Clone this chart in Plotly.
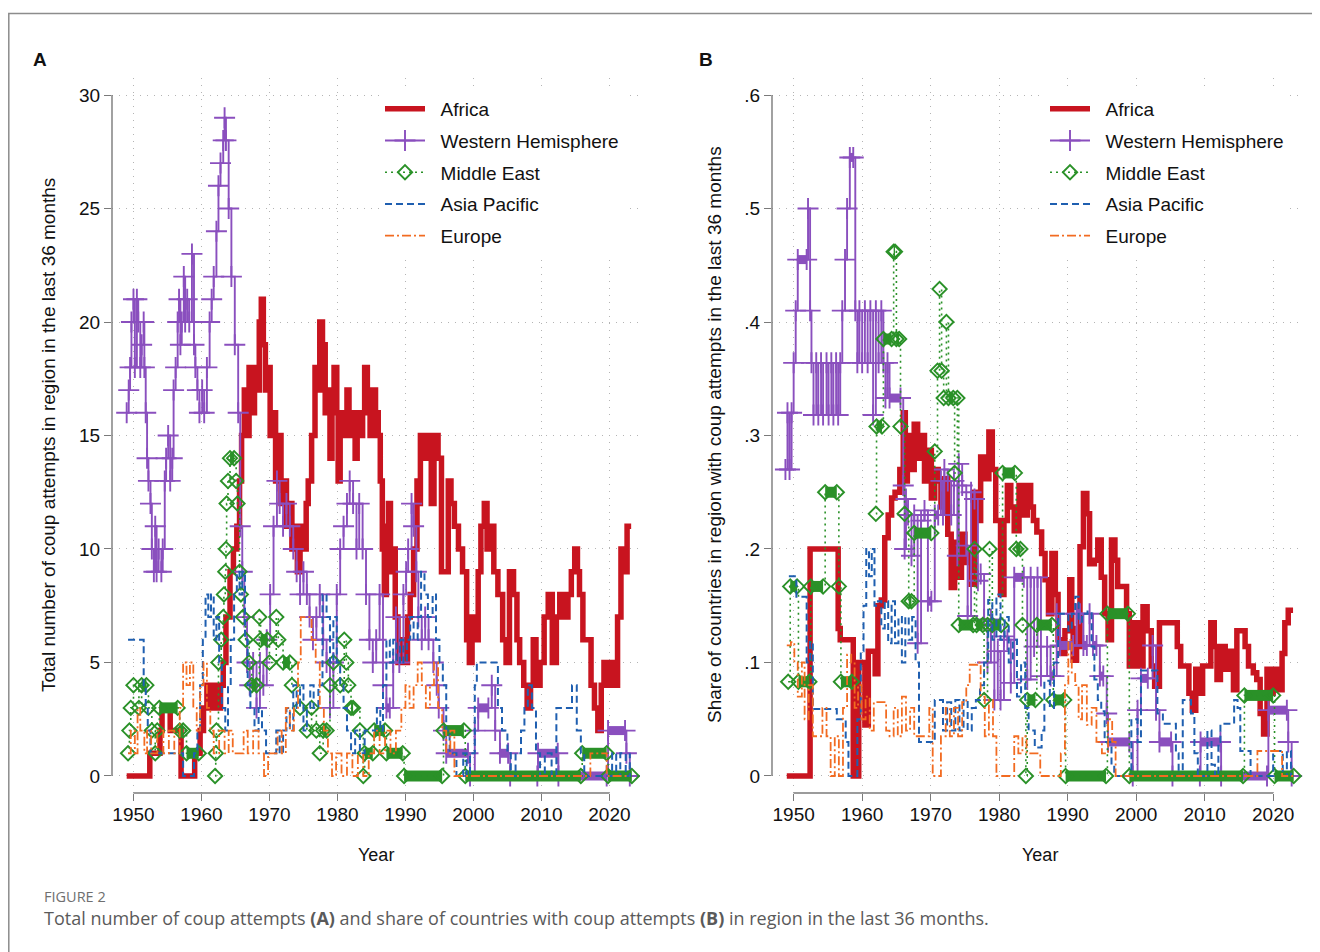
import plotly.graph_objects as go

OFF = 8                      # page body margin of the html
FW, FH = 1320 - OFF, 952 - OFF
FONT = "Liberation Sans, Arial, Helvetica, sans-serif"


def px(x):
    return (x - OFF) / FW


def py(y):
    return 1 - (y - OFF) / FH


regions = ["Africa", "Western Hemisphere", "Middle East", "Asia Pacific", "Europe"]

# ---------------- Panel A: total number of coup attempts (last 36 months) ----------------
africa_a = [(1949.0,0),(1952.4,1),(1953.9,2),(1954.2,3),(1955.4,2),(1957.0,0),(1959.0,1),(1959.8,2),(1960.3,3),(1960.8,4),
            (1961.4,3),(1961.8,4),(1962.4,3),(1962.8,4),(1963.2,5),(1963.6,7),(1964.2,9),(1964.7,10),(1965.2,11),(1965.6,13),
            (1965.9,15),(1966.3,17),(1966.6,15),(1967.0,18),(1967.4,16),(1967.8,18),(1968.2,17),(1968.5,20),(1968.8,21),(1969.1,19),
            (1969.4,17),(1969.8,18),(1970.1,15),(1970.5,16),(1970.9,13),(1971.3,15),(1971.7,12),(1972.1,13),(1972.5,11),(1972.9,12),
            (1973.3,10),(1973.7,11),(1974.1,9),(1974.5,11),(1974.9,10),(1975.4,12),(1975.7,13),(1976.2,15),(1976.7,18),(1977.1,17),
            (1977.4,20),(1977.8,19),(1978.2,16),(1978.6,17),(1978.9,14),(1979.2,16),(1979.5,18),(1979.9,16),(1980.1,13),(1980.4,15),
            (1980.7,16),(1981.1,15),(1981.4,17),(1981.7,16),(1981.9,15),(1982.3,16),(1982.6,14),(1982.9,16),(1983.3,15),(1983.7,16),
            (1984.0,18),(1984.4,17),(1984.8,15),(1985.2,17),(1985.6,16),(1986.0,15),(1986.3,13),(1986.6,10),(1986.9,8),(1987.2,11),
            (1987.5,12),(1987.8,9),(1988.2,10),(1988.5,7),(1988.9,5),(1989.4,6),(1989.8,5),(1990.3,7),(1990.7,8),(1991.2,10),
            (1991.7,13),(1992.0,12),(1992.2,15),(1993.0,14),(1993.4,15),(1993.8,12),(1994.2,15),(1994.8,14),(1995.3,9),(1996.3,13),
            (1996.7,12),(1997.2,11),(1997.8,10),(1998.4,9),(1999.0,6),(1999.4,5),(1999.8,7),(2000.3,6),(2000.7,9),(2001.1,11),
            (2001.6,12),(2002.0,10),(2002.6,11),(2003.0,9),(2003.6,8),(2004.3,6),(2004.8,5),(2005.3,9),(2005.9,8),(2006.4,6),
            (2006.8,5),(2007.4,4),(2007.9,3),(2008.4,4),(2008.8,6),(2009.2,4),(2009.8,5),(2010.4,7),(2011.0,8),(2011.6,5),
            (2012.2,7),(2012.7,8),(2013.3,7),(2013.9,8),(2014.4,9),(2014.9,10),(2015.3,9),(2015.6,8),(2016.1,6),(2016.8,6),
            (2017.3,4),(2017.8,3),(2018.3,2),(2018.8,4),(2019.2,5),(2019.7,4),(2020.3,5),(2020.8,4),(2021.2,7),(2021.7,10),
            (2022.1,9),(2022.6,11),(2023.2,11)]

west_hem_a = [(1949.0,16),(1949.3,17),(1949.5,18),(1949.7,20),(1950.0,21),(1950.2,18),(1950.5,21),(1950.7,20),(1951.0,18),(1951.2,19),
              (1951.5,20),(1951.6,18),(1951.8,16),(1952.0,14),(1952.2,13),(1952.5,12),(1952.7,10),(1953.0,9),(1953.2,11),(1953.4,9),
              (1953.7,10),(1954.1,9),(1954.3,10),(1954.6,13),(1954.8,14),(1955.1,15),(1955.4,13),(1955.7,14),(1955.9,17),(1956.2,18),
              (1956.5,20),(1956.7,21),(1956.9,19),(1957.1,20),(1957.4,22),(1957.6,20),(1957.9,21),(1958.2,20),(1958.6,23),(1958.9,19),
              (1959.1,18),(1959.4,17),(1959.7,16),(1960.1,17),(1960.4,16),(1960.8,18),(1961.2,20),(1961.5,21),(1961.8,22),(1962.2,24),
              (1962.5,26),(1962.8,27),(1963.2,28),(1963.4,29),(1963.6,28),(1964.0,25),(1964.4,22),(1964.9,19),(1965.4,16),(1965.7,11),
              (1966.0,9),(1966.3,7),(1966.7,5),(1967.1,4),(1967.6,5),(1968.1,3),(1968.6,5),(1969.1,4),(1969.6,6),(1970.1,8),
              (1970.6,11),(1971.1,13),(1971.5,12),(1972.0,11),(1972.5,12),(1973.0,11),(1973.5,10),(1974.0,9),(1974.5,8),(1975.0,9),
              (1975.5,8),(1975.9,7),(1976.4,6),(1976.9,7),(1977.4,8),(1977.9,6),(1978.4,5),(1978.9,3),(1979.4,5),(1979.9,8),
              (1980.4,10),(1980.9,11),(1981.4,12),(1981.8,13),(1982.3,12),(1982.8,10),(1983.2,12),(1983.7,10),(1984.2,8),(1984.7,6),
              (1985.2,5),(1985.7,6),(1986.2,8),(1986.7,4),(1987.2,3),(1987.7,3),(1988.2,5),(1988.6,7),(1989.1,5),(1989.7,8),
              (1990.1,9),(1990.4,10),(1990.9,12),(1991.2,11),(1991.6,9),(1991.9,7),(1992.4,6),(1992.9,7),(1993.4,6),(1994.1,5),
              (1994.6,4),(1994.9,3),(1995.6,2),(1996.0,1),(1999.2,1),(1999.5,0),(2000.2,2),(2000.7,3),(2002.2,3),(2002.7,4),
              (2003.2,2),(2003.9,1),(2005.1,1),(2005.4,0),(2009.4,0),(2009.5,1),(2012.4,1),(2012.5,0),(2019.6,0),(2019.8,2),
              (2022.3,2),(2022.5,1),(2023.0,0)]

mid_east_a = [(1949.2,1),(1949.4,2),(1949.6,3),(1950.0,4),(1950.8,3),(1951.2,4),(1951.9,4),(1952.2,3),(1952.7,2),(1953.2,1),
              (1953.5,2),(1953.8,3),(1956.5,3),(1956.8,2),(1957.3,2),(1957.8,1),(1959.6,1), None,
              (1962.0,0),(1962.1,1),(1962.2,2),(1962.5,5),(1962.9,6),(1963.2,7),(1963.3,8),(1963.5,9),(1963.6,10),(1963.7,12),
              (1963.9,13),(1964.2,14),(1964.8,14),(1965.1,13),(1965.3,12),(1965.6,9),(1965.8,8),(1966.1,7),(1966.5,6),(1967.0,5),
              (1967.4,4),(1968.1,4),(1968.5,7),(1968.7,6),(1969.7,6),(1970.0,5),(1971.0,7),(1971.3,6),(1972.0,5),(1973.0,5),
              (1973.3,4),(1974.5,3),(1975.5,2),(1976.2,3),(1976.9,2),(1977.4,1),(1977.9,2),(1978.4,2),(1978.9,4),(1979.4,5),
              (1980.4,4),(1981.0,6),(1981.3,5),(1981.6,4),(1982.0,3),(1982.3,3),(1983.3,2),(1983.8,0),(1984.0,1),(1985.2,1),
              (1985.4,2),(1987.0,2),(1987.2,1),(1989.6,1),(1989.8,0),(1995.4,0),(1995.6,2),(1998.6,2),(1998.8,0),(2015.8,0),
              (2016.0,1),(2019.6,1),(2019.8,0),(2023.3,0)]

asia_pac_a = [(1949.2,6),(1951.3,6),(1951.5,4),(1951.8,3),(1952.1,2),(1952.5,1),(1957.0,1),(1957.3,0),(1958.6,0),(1958.9,1),
              (1959.4,2),(1959.8,4),(1960.2,6),(1960.6,8),(1961.0,7),(1961.4,8),(1961.8,6),(1962.2,7),(1962.6,5),(1963.0,3),
              (1963.5,2),(1963.9,4),(1964.3,6),(1964.8,8),(1965.2,9),(1965.6,8),(1966.0,9),(1966.4,6),(1966.8,4),(1967.2,3),
              (1967.8,2),(1968.4,3),(1968.9,2),(1969.5,1),(1970.5,1),(1971.0,2),(1971.5,1),(1972.0,2),(1972.5,3),(1973.0,2),
              (1973.5,4),(1974.0,3),(1974.5,4),(1975.0,2),(1975.5,3),(1976.0,4),(1976.5,3),(1977.2,4),(1977.8,8),(1978.4,7),
              (1978.9,5),(1979.4,7),(1979.9,5),(1980.4,4),(1980.9,3),(1981.4,2),(1982.0,1),(1982.6,2),(1983.3,1),(1984.0,2),
              (1985.3,2),(1985.8,3),(1986.3,2),(1986.7,4),(1987.2,6),(1987.7,5),(1988.2,6),(1988.7,5),(1989.2,6),(1989.7,5),
              (1990.2,6),(1990.7,7),(1991.2,6),(1991.8,7),(1992.3,9),(1992.8,8),(1993.3,7),(1994.0,8),(1994.5,6),(1995.0,5),
              (1995.5,4),(1996.0,2),(1996.5,1),(1997.5,0),(1998.5,1),(1999.0,0),(1999.5,1),(2000.2,4),(2000.5,5),(2003.4,5),
              (2003.6,3),(2004.2,2),(2005.0,1),(2005.5,0),(2006.2,1),(2007.0,2),(2007.5,3),(2008.0,4),(2008.6,3),(2009.2,1),
              (2009.8,0),(2010.5,1),(2011.5,0),(2012.2,3),(2014.2,3),(2014.5,4),(2015.2,2),(2015.8,1),(2016.3,0),(2020.0,0),
              (2020.4,1),(2021.0,0),(2021.6,1),(2022.4,0),(2023.0,1)]

europe_a = [(1949.2,1),(1949.6,2),(1950.2,1),(1950.6,3),(1951.0,2),(1951.6,1),(1952.0,2),(1952.6,1),(1953.5,2),(1954.4,1),
            (1955.2,2),(1956.0,1),(1956.8,3),(1957.3,5),(1957.8,4),(1958.3,5),(1958.8,3),(1959.3,2),(1959.8,4),(1960.3,5),
            (1960.8,3),(1961.3,2),(1961.8,1),(1962.6,2),(1963.4,1),(1964.0,2),(1964.6,1),(1966.2,2),(1966.8,1),(1967.6,2),
            (1968.4,1),(1969.2,0),(1969.8,1),(1971.2,2),(1971.8,1),(1972.4,3),(1973.0,2),(1973.6,3),(1974.2,5),(1974.6,7),
            (1975.6,7),(1976.2,6),(1976.8,5),(1977.4,3),(1978.0,2),(1978.6,1),(1979.2,0),(1979.8,1),(1980.6,0),(1981.4,1),
            (1982.2,0),(1983.0,1),(1983.8,0),(1984.6,1),(1985.4,2),(1986.2,1),(1987.0,2),(1987.8,1),(1988.6,2),(1989.4,3),
            (1990.0,4),(1990.6,3),(1991.2,4),(1991.8,5),(1992.4,4),(1993.0,3),(1993.6,4),(1994.2,5),(1994.8,3),(1995.4,2),
            (1996.0,1),(1996.6,2),(1997.2,0),(2016.8,0),(2017.2,1),(2019.2,1),(2019.6,0),(2023.0,0)]

# ---------------- Panel B: share of countries with coup attempts (last 36 months) ----------------
africa_b = [(1949.0,0),(1952.4,0.2),(1956.3,0.2),(1956.5,0.13),(1956.8,0.12),(1958.5,0.12),(1958.7,0),(1959.4,0),(1959.5,0.1),(1960.2,0.1),
            (1960.4,0.045),(1960.9,0.11),(1961.7,0.11),(1961.9,0.09),(1962.3,0.15),(1962.8,0.155),(1963.3,0.21),(1963.8,0.23),(1964.3,0.245),(1964.8,0.25),
            (1965.5,0.27),(1966.0,0.32),(1966.3,0.26),(1966.6,0.3),(1967.1,0.27),(1967.6,0.31),(1968.1,0.28),(1968.6,0.3),(1969.1,0.26),(1969.6,0.287),
            (1970.1,0.245),(1970.6,0.27),(1971.1,0.26),(1971.5,0.237),(1972.0,0.262),(1972.5,0.213),(1973.0,0.166),(1973.5,0.206),(1974.0,0.175),(1974.5,0.213),
            (1975.0,0.188),(1975.5,0.197),(1975.9,0.169),(1976.4,0.25),(1976.9,0.225),(1977.3,0.281),(1977.8,0.262),(1978.5,0.303),(1979.0,0.27),(1979.5,0.225),
            (1980.2,0.16),(1980.7,0.225),(1981.2,0.256),(1981.7,0.237),(1982.2,0.216),(1982.9,0.256),(1983.4,0.23),(1984.1,0.256),(1984.6,0.237),(1985.0,0.225),
            (1985.5,0.215),(1986.2,0.196),(1986.7,0.173),(1987.2,0.143),(1987.7,0.196),(1988.2,0.16),(1988.6,0.12),(1989.1,0.108),(1989.6,0.128),(1990.3,0.173),
            (1990.6,0.13),(1990.8,0.102),(1991.3,0.114),(1991.8,0.202),(1992.3,0.249),(1992.8,0.231),(1993.2,0.187),(1993.9,0.19),(1994.4,0.208),(1994.9,0.175),
            (1995.4,0.143),(1995.9,0.12),(1996.4,0.208),(1996.9,0.19),(1997.3,0.167),(1998.0,0.167),(1998.6,0.143),(1999.0,0.097),(1999.8,0.135),(2000.3,0.097),
            (2001.0,0.149),(2001.6,0.128),(2002.2,0.097),(2002.7,0.079),(2003.4,0.135),(2005.6,0.135),(2006.0,0.114),(2006.5,0.097),(2007.2,0.097),(2007.7,0.073),
            (2008.2,0.058),(2008.7,0.094),(2009.2,0.073),(2009.7,0.097),(2010.4,0.097),(2010.9,0.135),(2011.4,0.114),(2011.8,0.085),(2012.3,0.114),(2013.0,0.094),
            (2013.5,0.11),(2014.2,0.076),(2014.7,0.128),(2015.5,0.128),(2015.9,0.114),(2016.4,0.097),(2017.1,0.091),(2017.6,0.085),(2018.1,0.055),(2018.6,0.037),
            (2019.1,0.094),(2019.6,0.073),(2020.0,0.094),(2020.7,0.076),(2021.3,0.108),(2021.7,0.135),(2022.2,0.146),(2022.9,0.146)]

west_hem_b = [(1948.8,0.27),(1949.1,0.32),(1949.4,0.27),(1949.7,0.32),(1950.0,0.364),(1950.3,0.41),(1950.6,0.455),(1951.9,0.455),(1952.1,0.5),(1952.4,0.41),
              (1952.6,0.364),(1952.9,0.318),(1953.3,0.364),(1953.6,0.318),(1954.0,0.364),(1954.3,0.318),(1954.8,0.364),(1955.1,0.318),(1955.5,0.364),(1955.8,0.318),
              (1956.2,0.364),(1956.5,0.318),(1956.8,0.364),(1957.1,0.41),(1957.5,0.455),(1957.8,0.5),(1958.2,0.545),(1958.7,0.545),(1959.0,0.41),(1959.3,0.364),
              (1959.6,0.41),(1960.0,0.364),(1960.4,0.41),(1960.8,0.364),(1961.2,0.41),(1961.6,0.318),(1962.0,0.41),(1962.4,0.364),(1962.8,0.41),(1963.1,0.364),
              (1963.4,0.333),(1963.7,0.364),(1964.0,0.333),(1965.6,0.333),(1966.0,0.256),(1966.2,0.2),(1966.4,0.244),(1966.7,0.23),(1967.2,0.194),(1967.6,0.23),
              (1968.1,0.117),(1968.6,0.225),(1969.1,0.234),(1969.6,0.154),(1970.1,0.154),(1970.6,0.23),(1971.1,0.23),(1971.5,0.26),(1971.8,0.23),(1972.0,0.27),
              (1972.5,0.26),(1973.0,0.23),(1973.4,0.26),(1973.9,0.194),(1974.1,0.275),(1974.6,0.256),(1975.2,0.203),(1975.4,0.141),(1975.9,0.25),(1976.4,0.244),
              (1976.9,0.172),(1977.3,0.178),(1977.8,0.138),(1978.3,0.1),(1978.8,0.138),(1979.3,0.067),(1979.8,0.11),(1980.2,0.067),(1980.7,0.123),(1981.2,0.12),
              (1981.7,0.082),(1982.2,0.175),(1983.6,0.175),(1984.1,0.085),(1984.6,0.175),(1985.1,0.114),(1985.6,0.175),(1986.1,0.088),(1987.0,0.114),(1987.5,0.088),
              (1988.0,0.088),(1988.4,0.143),(1988.9,0.115),(1990.8,0.115),(1991.3,0.143),(1991.8,0.143),(1992.3,0.115),(1992.8,0.115),(1993.2,0.143),(1993.7,0.115),
              (1994.2,0.115),(1994.7,0.088),(1995.2,0.088),(1995.7,0.055),(1995.9,0.03),(1999.0,0.03),(1999.5,0),(2000.2,0.058),(2000.7,0.086),(2001.7,0.086),
              (2002.4,0.115),(2002.9,0.058),(2003.4,0.03),(2005.1,0.03),(2005.3,0),(2009.3,0),(2009.4,0.03),(2012.3,0.03),(2012.4,0),(2019.1,0),
              (2019.3,0.058),(2022.0,0.058),(2022.2,0.03),(2022.7,0)]

mid_east_b = [(1949.2,0.083),(1949.5,0.167),(1950.5,0.167),(1950.7,0.083),(1952.3,0.083),(1952.5,0.167),(1954.3,0.167),(1954.6,0.25),(1956.3,0.25),(1956.6,0.167),
              (1956.9,0.083),(1958.5,0.083), None,
              (1962.0,0.231),(1962.1,0.308),(1962.9,0.308),(1963.1,0.385),(1964.3,0.385),(1964.6,0.462),(1964.8,0.462),(1965.0,0.385),(1965.4,0.385),(1965.6,0.308),
              (1966.2,0.231),(1966.8,0.154),(1967.2,0.154),(1967.6,0.214),(1970.1,0.214),(1970.6,0.286),(1971.0,0.357),(1971.3,0.429),(1971.6,0.357),(1971.9,0.333),
              (1972.3,0.4),(1972.6,0.333),(1973.3,0.333),(1973.5,0.267),(1973.9,0.333),(1974.1,0.133),(1976.2,0.133),(1976.4,0.2),(1976.7,0.133),(1977.6,0.133),
              (1977.8,0.067),(1978.3,0.133),(1978.6,0.2),(1979.0,0.133),(1980.3,0.133),(1980.5,0.267),(1982.3,0.267),(1982.5,0.2),(1983.1,0.2),(1983.4,0.133),
              (1983.9,0),(1984.1,0.067),(1985.3,0.067),(1985.5,0.133),(1987.7,0.133),(1987.9,0.067),(1989.5,0.067),(1989.7,0),(1995.6,0),(1995.8,0.143),
              (1998.8,0.143),(1999.0,0),(2015.6,0),(2015.8,0.071),(2020.0,0.071),(2020.2,0),(2023.0,0)]

asia_pac_b = [(1949.3,0.176),(1950.2,0.176),(1950.4,0.158),(1951.7,0.158),(1951.9,0.1),(1952.4,0.118),(1952.8,0.059),(1956.0,0.059),(1956.3,0.05),(1957.3,0.05),
              (1957.6,0.03),(1958.0,0),(1959.0,0),(1959.3,0.05),(1959.8,0.11),(1960.2,0.15),(1960.6,0.2),(1961.0,0.176),(1961.4,0.2),(1961.8,0.15),
              (1962.3,0.154),(1962.8,0.13),(1963.3,0.154),(1963.8,0.117),(1964.3,0.154),(1964.8,0.117),(1965.3,0.14),(1965.8,0.1),(1966.3,0.14),(1966.8,0.12),
              (1967.3,0.14),(1967.8,0.1),(1968.3,0.03),(1970.3,0.03),(1970.6,0.067),(1971.4,0.067),(1971.8,0.04),(1972.4,0.065),(1973.0,0.04),(1973.6,0.067),
              (1974.2,0.04),(1974.8,0.067),(1975.4,0.04),(1976.0,0.06),(1976.6,0.067),(1977.2,0.08),(1977.8,0.1),(1978.4,0.155),(1979.0,0.12),(1979.6,0.16),
              (1980.2,0.12),(1980.8,0.14),(1981.4,0.1),(1982.0,0.12),(1982.6,0.07),(1983.2,0.1),(1983.8,0.06),(1984.3,0.04),(1985.2,0.025),(1986.2,0.04),
              (1986.6,0.084),(1987.4,0.06),(1988.0,0.1),(1988.6,0.143),(1989.6,0.143),(1990.1,0.128),(1990.6,0.143),(1991.1,0.158),(1991.6,0.136),(1992.1,0.143),
              (1992.9,0.145),(1993.5,0.114),(1993.9,0.085),(1994.4,0.067),(1994.9,0.057),(1995.4,0.03),(1996.4,0.01),(1996.8,0),(1998.8,0),(1999.3,0.05),
              (2000.2,0.03),(2000.7,0.093),(2002.7,0.093),(2003.1,0.055),(2003.9,0.046),(2005.6,0.046),(2005.8,0.02),(2006.2,0),(2006.8,0.067),(2007.5,0.067),
              (2008.0,0.055),(2008.5,0.02),(2009.0,0),(2010.4,0.04),(2011.0,0.01),(2011.5,0),(2012.0,0.03),(2012.3,0.046),(2013.8,0.046),(2014.3,0.067),
              (2014.8,0.06),(2015.2,0.022),(2016.2,0.022),(2016.7,0),(2019.8,0),(2020.0,0.022),(2021.0,0.022),(2021.4,0),(2022.0,0.022),(2022.6,0)]

europe_b = [(1949.0,0.115),(1949.6,0.118),(1950.1,0.1),(1950.6,0.07),(1951.2,0.1),(1951.6,0.05),(1952.2,0.08),(1952.8,0.035),(1953.5,0.035),(1954.2,0.06),
            (1954.8,0.035),(1955.4,0),(1956.0,0.035),(1956.6,0),(1957.2,0.06),(1957.8,0.107),(1958.4,0.1),(1958.9,0.06),(1959.4,0.08),(1959.9,0.05),
            (1960.5,0.07),(1961.1,0.04),(1961.7,0.065),(1963.0,0.065),(1963.5,0.04),(1964.0,0.035),(1964.6,0.06),(1965.2,0.035),(1965.8,0.07),(1966.4,0.04),
            (1967.0,0.06),(1967.6,0.035),(1969.3,0.035),(1969.8,0.06),(1970.3,0),(1971.0,0),(1971.5,0.035),(1972.2,0.06),(1972.8,0.035),(1973.4,0.06),
            (1974.0,0.035),(1974.6,0.065),(1975.2,0.08),(1975.7,0.098),(1976.8,0.1),(1977.3,0.07),(1977.9,0.035),(1978.5,0.067),(1979.1,0.035),(1979.6,0),
            (1981.6,0),(1982.2,0.035),(1982.8,0.02),(1983.4,0.035),(1984.0,0.02),(1985.0,0.02),(1986.0,0),(1988.5,0),(1989.0,0.02),(1989.6,0.08),
            (1990.1,0.12),(1990.6,0.09),(1991.1,0.08),(1991.6,0.05),(1992.1,0.08),(1992.8,0.045),(1993.5,0.06),(1994.2,0.03),(1995.0,0.02),(1995.9,0.05),
            (1996.5,0.03),(1997.0,0),(2017.5,0),(2017.7,0.022),(2021.0,0.022),(2021.3,0),(2023.0,0)]

x_ticks = [1950, 1960, 1970, 1980, 1990, 2000, 2010, 2020]
y_ticks_a = [0, 5, 10, 15, 20, 25, 30]
y_ticks_b = [0, 0.1, 0.2, 0.3, 0.4, 0.5, 0.6]
y_labels_b = ["0", ".1", ".2", ".3", ".4", ".5", ".6"]

panel_a = [africa_a, west_hem_a, mid_east_a, asia_pac_a, europe_a]
panel_b = [africa_b, west_hem_b, mid_east_b, asia_pac_b, europe_b]

# ---------------- styles ----------------
STYLE = {
    "Africa": dict(color="#c8141f", width=5.5, dash="solid", symbol=None, band=None),
    "Western Hemisphere": dict(color="#8a4fbe", width=1.9, dash="solid", symbol="cross-thin", size=15, band=9),
    "Middle East": dict(color="#2a9128", width=1.6, dash="2px,4px", symbol="diamond-open", size=11, band=11),
    "Asia Pacific": dict(color="#1f5fb0", width=2, dash="7px,4px", symbol=None, band=None),
    "Europe": dict(color="#f26b21", width=1.8, dash="9px,3px,2px,3px", symbol=None, band=None),
}
NBSP = "\u00a0\u00a0"


def split(pairs):
    xs, ys = [], []
    for p in pairs:
        if p is None:
            xs.append(None); ys.append(None)
        else:
            xs.append(p[0]); ys.append(p[1])
    return xs, ys


def runs(xs, ys):
    bx, by = [], []
    for i in range(len(xs) - 1):
        if ys[i] is not None and ys[i + 1] is not None and ys[i] == ys[i + 1]:
            bx += [xs[i], xs[i + 1], None]
            by += [ys[i], ys[i + 1], None]
    return bx, by


fig = go.Figure()

for panel, series_list, xa, ya, leg in [("a", panel_a, "x", "y", "legend"), ("b", panel_b, "x2", "y2", "legend2")]:
    for name, pairs in zip(regions, series_list):
        st = STYLE[name]
        xs, ys = split(pairs)
        if st["band"]:
            bx, by = runs(xs, ys)
            fig.add_trace(go.Scatter(x=bx, y=by, xaxis=xa, yaxis=ya, mode="lines", showlegend=False,
                                     line=dict(color=st["color"], width=st["band"]), hoverinfo="skip",
                                     connectgaps=False))
        kw = dict(x=xs, y=ys, xaxis=xa, yaxis=ya, name=NBSP + name, legend=leg, legendgroup=name + panel,
                  line=dict(color=st["color"], width=st["width"], dash=st["dash"], shape="hv"),
                  connectgaps=False)
        if st["symbol"]:
            kw["mode"] = "lines+markers"
            kw["marker"] = dict(symbol=st["symbol"], size=st["size"], color=st["color"],
                                line=dict(color=st["color"], width=1.9))
        else:
            kw["mode"] = "lines"
        fig.add_trace(go.Scatter(**kw))

XR = [1946.84, 2024.5]
YA = [-0.75, 30.75]
YB = [-0.015, 0.615]
ydom = [py(793), py(78)]
grid = dict(showgrid=True, gridcolor="#b4b4b4", gridwidth=1.3, griddash="1px,6px", zeroline=False, showline=False)
tick_common = dict(ticks="outside", ticklen=7, tickwidth=1.4, tickcolor="#7a7a7a",
                   tickfont=dict(family=FONT, size=19, color="#111"))
leg_common = dict(xanchor="left", yanchor="top", bgcolor="white", borderwidth=0,
                  font=dict(family=FONT, size=19, color="#111"), itemwidth=40,
                  traceorder="grouped", tracegroupgap=4)

fig.update_layout(
    width=FW, height=FH, margin=dict(l=0, r=0, t=0, b=0),
    plot_bgcolor="white", paper_bgcolor="white",
    font=dict(family=FONT, color="#111"),
    xaxis=dict(domain=[px(112), px(640)], range=XR, anchor="y", tickvals=x_ticks, ticklabelstandoff=-3,
               **grid, **tick_common),
    yaxis=dict(domain=ydom, range=YA, anchor="x", tickvals=y_ticks_a, **grid, **tick_common),
    xaxis2=dict(domain=[px(772), px(1304)], range=XR, anchor="y2", tickvals=x_ticks, ticklabelstandoff=-3,
                **grid, **tick_common),
    yaxis2=dict(domain=ydom, range=YB, anchor="x2", tickvals=y_ticks_b, ticktext=y_labels_b, **grid, **tick_common),
    legend=dict(x=px(380), y=py(90), **leg_common),
    legend2=dict(x=px(1045), y=py(90), **leg_common),
    showlegend=True,
)

axis_col = "#7a7a7a"
shapes = []
for xr, yr, ymax in [("x", "y", y_ticks_a[-1]), ("x2", "y2", y_ticks_b[-1])]:
    shapes.append(dict(type="line", xref=xr + " domain", yref=yr, x0=0, x1=0, y0=0, y1=ymax,
                       line=dict(color=axis_col, width=1.4)))
    shapes.append(dict(type="line", xref=xr, yref=yr + " domain", x0=x_ticks[0], x1=x_ticks[-1], y0=0, y1=0,
                       line=dict(color=axis_col, width=1.4)))
# outer frame of the figure box
shapes.append(dict(type="rect", xref="paper", yref="paper", x0=px(8.8), x1=1.02, y0=-0.02, y1=py(13.5),
                   line=dict(color="#8c8c8c", width=1.5), layer="below"))
fig.update_layout(shapes=shapes)


def note(text, x, y, size, color="#111", family=FONT, xanchor="center", angle=0):
    return dict(text=text, x=px(x), y=py(y), xref="paper", yref="paper", showarrow=False, textangle=angle,
                font=dict(family=family, size=size, color=color), xanchor=xanchor, yanchor="middle")


ann = [
    note("<b>A</b>", 40, 60, 19),
    note("<b>B</b>", 706, 60, 19),
    note("Total number of coup attempts in region in the last 36 months", 48, 435, 19, angle=-90),
    note("Share of countries in region with coup attempts in the last 36 months", 714, 435, 19, angle=-90),
    note("Year", 376, 855, 18),
    note("Year", 1040, 855, 18),
    note("FIGURE 2", 42, 896, 14.5, color="#6f6f6f", family="Open Sans, sans-serif", xanchor="left"),
    note("Total number of coup attempts <b>(A)</b> and share of countries with coup attempts <b>(B)</b> in region in the last 36 months.",
         42, 918, 18, color="#5a5a5a", family="Open Sans, sans-serif", xanchor="left"),
]
fig.update_layout(annotations=ann)

fig.write_html("out.html")
